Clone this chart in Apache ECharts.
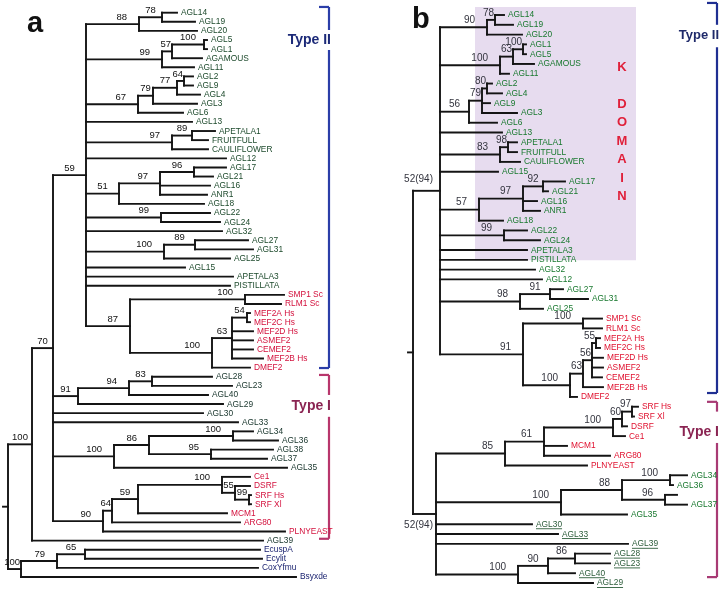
<!DOCTYPE html>
<html><head><meta charset="utf-8">
<script src="https://cdn.jsdelivr.net/npm/echarts@6/dist/echarts.min.js"></script>
<style>html,body{margin:0;padding:0;background:#fff;}#c{width:726px;height:591px;}</style>
</head><body><div id="c"></div>
<script>
// ===== DATA (Newick clades; branch lengths, internal labels = bootstrap) =====
const treeA_typeII = [
 "((AGL14:15,AGL19:33)78:23,AGL20:58)88:53",
 "(((AGL5:3,AGL1:3)100:32,AGAMOUS:30)57:10,AGL11:32)99:76",
 "((((AGL2:9,AGL9:9)64:7,AGL4:23)77:24,AGL3:44)79:15,AGL6:45)67:52",
 "AGL13:106",
 "((APETALA1:23,FRUITFULL:16)89:20,CAULIFLOWER:36)97:86",
 "AGL12:140",
 "(((AGL17:32,AGL21:19)96:34,AGL16:50,ANR1:47)97:41,AGL18:85)51:33",
 "(AGL22:49,AGL24:59)99:75",
 "AGL32:136",
 "((AGL27:53,AGL31:58)89:31,AGL25:66)100:78",
 "AGL15:99",
 "APETALA3:147",
 "PISTILLATA:144",
 "((SMP1 Sc:39,RLM1 Sc:36)100:115,(((MEF2A Hs:3,MEF2C Hs:3)54:15,MEF2D Hs:21,ASMEF2:21,CEMEF2:21,MEF2B Hs:31)63:20,DMEF2:38)100:82)87:44"
];
const treeA_typeI = [
 "(((AGL28:60,AGL23:80)83:23,AGL40:79)94:51,AGL29:145)91:25",
 "AGL30:150",
 "AGL33:185",
 "(((AGL34:20,AGL36:45)100:84,(AGL38:62,AGL37:56)95:62)86:35,AGL35:173)100:61",
 "((((Ce1:28,(DSRF:15,(SRF Hs:2,SRF Xl:2)99:14)55:13)100:84,MCM1:89)59:26,ARG80:128)64:9,PLNYEAST:182)90:50"
];
const treeA_outgroup = "(((EcuspA:175,Ecylit:177)65:28,CoxYfmu:201)79:36,Bsyxde:275)100:13";

const treeB_typeII = [
 "((AGL14:9,AGL19:18)78:8,AGL20:35)90:47",
 "(((AGL1:3,AGL5:3)100:10,AGAMOUS:21)63:13,AGL11:9)100:60",
 "(((AGL2:5,AGL4:15)80:5,AGL9:8,AGL3:35)79:13,AGL6:28)56:29",
 "AGL13:62",
 "((APETALA1:9,FRUITFULL:9)98:8,CAULIFLOWER:20)83:60",
 "AGL15:58",
 "(((AGL17:22,AGL21:5)92:20,AGL16:14,ANR1:17)97:44,AGL18:24)57:39",
 "(AGL22:23,AGL24:36)99:64",
 "APETALA3:87",
 "PISTILLATA:87",
 "AGL32:95",
 "AGL12:102",
 "((AGL27:13,AGL31:38)91:30,AGL25:23)98:80",
 "((SMP1 Sc:19,RLM1 Sc:19)100:60,((((MEF2A Hs:4,MEF2C Hs:4)55:4,MEF2D Hs:11,ASMEF2:11,CEMEF2:10)56:9,MEF2B Hs:20)63:13,DMEF2:7)100:47)91:83"
];
const treeB_typeI = [
 "(((((SRF Hs:6,SRF Xl:2)97:10,DSRF:5)60:9,Ce1:12)100:69,MCM1:23,ARG80:66)61:39,PLNYEAST:82)85:69",
 "(((AGL34:17,AGL36:3)100:48,(:12,AGL37:22)96:43)88:61,AGL35:66)100:125",
 "AGL30:96",
 "AGL33:122",
 "AGL39:192",
 "(((AGL28:35,AGL23:35)86:27,AGL40:27)90:30,AGL29:75)100:82"
];

const redGenes = ['SMP1 Sc','RLM1 Sc','MEF2A Hs','MEF2C Hs','MEF2D Hs','ASMEF2','CEMEF2','MEF2B Hs','DMEF2','Ce1','DSRF','SRF Hs','SRF Xl','MCM1','ARG80','PLNYEAST'];
const outgroupGenes = ['EcuspA','Ecylit','CoxYfmu','Bsyxde'];
const typeIGenesA = ['AGL28','AGL23','AGL40','AGL29','AGL30','AGL33','AGL34','AGL36','AGL38','AGL37','AGL35','AGL39'];
const underlinedB = ['AGL30','AGL33','AGL39','AGL28','AGL23','AGL40','AGL29'];

// ===== build =====
const FONT = '"Liberation Sans", Arial, Helvetica, sans-serif';
const mctx = document.createElement('canvas').getContext('2d');
function tw(t, font){ mctx.font = font; return mctx.measureText(t).width; }

function parseNewick(s){
  let i = 0;
  function node(){
    const n = {children:[], label:'', len:0};
    if (s[i] === '('){
      i++;
      while (true){ n.children.push(node()); if (s[i] === ','){ i++; } else break; }
      i++;
    }
    let lab = '';
    if (s[i] === "'"){ i++; while (s[i] !== "'"){ lab += s[i++]; } i++; }
    else { while (i < s.length && ':,()'.indexOf(s[i]) < 0){ lab += s[i++]; } }
    n.label = lab.trim();
    if (s[i] === ':'){ i++; let num = ''; while (i < s.length && /[0-9.]/.test(s[i])) num += s[i++]; n.len = parseFloat(num) || 0; }
    return n;
  }
  return node();
}

function buildTree(str){
  const root = parseNewick(str);
  let leaf = 0;
  (function lay(n, px){
    n.x = px + n.len; n.px = px;
    if (!n.children.length){ n.y = leaf++; }
    else { n.children.forEach(c => lay(c, n.x)); n.y = (n.children[0].y + n.children[n.children.length-1].y) / 2; }
  })(root, 0);
  const items = [];
  items.push({k:'h', x1:0, x2:root.x, y:root.y});
  (function walk(n, depth, pos){
    if (n.children.length){
      const f = n.children[0], l = n.children[n.children.length-1];
      items.push({k:'v', x:n.x, y1:f.y, y2:l.y});
      n.children.forEach((c, ci) => { items.push({k:'h', x1:n.x, x2:c.x, y:c.y}); walk(c, depth+1, ci === 0 ? 'top' : 'bottom'); });
      if (n.label && depth > 0) items.push({k:'boot', nx:n.x, px:n.px, y:n.y, label:n.label, fx:f.x, fy:f.y, rootChild: depth === 1 ? pos : null});
    } else if (n.label){
      items.push({k:'leaf', x:n.x, y:n.y, name:n.label});
    }
  })(root, 0, null);
  return {items, leafCount:leaf};
}

const treeA = buildTree("((((" + treeA_typeII.join(",") + ")59:33," + treeA_typeI.join(",") + ")70:21,AGL39:231)100:24," + treeA_outgroup + "):5");
const treeB = buildTree("((" + treeB_typeII.join(",") + ")'52(94)':27,(" + treeB_typeI.join(",") + ")'52(94)':23):5");

const LINE = '#141414', LW = 1.9;
const styleA = {
  leafFont: '9px ' + FONT, bootFont: '9.5px ' + FONT, bootColor: '#111', special: false,
  color: n => redGenes.includes(n) ? '#d3103c' : outgroupGenes.includes(n) ? '#1b2370' : typeIGenesA.includes(n) ? '#17342b' : '#1d4a2c',
  underline: n => false
};
const styleB = {
  leafFont: '9px ' + FONT, bootFont: '10px ' + FONT, bootColor: '#33343e', special: true,
  color: n => redGenes.includes(n) ? '#e0102e' : underlinedB.includes(n) ? '#2c5c3a' : '#18782e',
  underline: n => underlinedB.includes(n)
};

function renderTree(tree, st){
  return function(params, api){
    const it = tree.items[params.dataIndex];
    const ls = {stroke: LINE, lineWidth: LW, lineCap: 'square'};
    if (it.k === 'h'){
      const p1 = api.coord([it.x1, it.y]), p2 = api.coord([it.x2, it.y]);
      return {type:'line', shape:{x1:p1[0], y1:p1[1], x2:p2[0], y2:p2[1]}, style:ls};
    }
    if (it.k === 'v'){
      const p1 = api.coord([it.x, it.y1]), p2 = api.coord([it.x, it.y2]);
      return {type:'line', shape:{x1:p1[0], y1:p1[1], x2:p2[0], y2:p2[1]}, style:ls};
    }
    if (it.k === 'leaf'){
      const p = api.coord([it.x, it.y]);
      const sx = 0.93, tx = p[0] + 4;
      const col = st.color(it.name);
      const txt = {type:'text', x:tx, y:p[1], scaleX:sx,
        style:{text:it.name, fill:col, font:st.leafFont, align:'left', verticalAlign:'middle', textAlign:'left', textVerticalAlign:'middle'}};
      if (!st.underline(it.name)) return txt;
      const w = tw(it.name, st.leafFont) * sx;
      return {type:'group', children:[txt,
        {type:'line', shape:{x1:tx, y1:p[1]+4.5, x2:tx+w, y2:p[1]+4.5}, style:{stroke:col, lineWidth:0.9}}]};
    }
    if (it.k === 'boot'){
      const pn = api.coord([it.nx, it.y]), pp = api.coord([it.px, it.y]);
      const w = tw(it.label, st.bootFont);
      let cx, ly, align = 'center';
      if (st.special && it.rootChild){
        cx = pp[0] + 20; align = 'right';
        ly = it.rootChild === 'top' ? pn[1] - 12 : pn[1] + 11;
      } else {
        const mid = (pn[0] + pp[0]) / 2;
        cx = Math.max(mid, pn[0] - 12 - w/2);
        cx = Math.min(cx, pn[0] - 1 - w/2);
        cx = Math.max(cx, mid - 14);
        ly = pn[1] - 7;
        const pf = api.coord([it.fx, it.fy]);
        if (pf[1] > ly - 4 && pf[1] < ly + 4 && cx - w/2 + 1 < pf[0] && cx + w/2 - 1 > pn[0]) ly = pf[1] - 7;
      }
      return {type:'text', x:cx, y:ly,
        style:{text:it.label, fill:st.bootColor, font:st.bootFont, align:align, verticalAlign:'middle', textAlign:align, textVerticalAlign:'middle'}};
    }
    return null;
  };
}

// ===== decorations (in each tree's axis units: x = distance, y = leaf row) =====
const bracketsA = [
  {x:326, from:-0.63, to:39.04, gap:[1.9, 4.1], textRow:3.0, text:'Type II', line:'#2b3ea8', color:'#1c2a78', size:14},
  {x:326, from:39.8, to:57.8, gap:[42.0, 44.4], textRow:43.2, text:'Type I', line:'#b8366c', color:'#8a2452', size:14}
];
const bracketsB = [
  {x:309, from:-1.23, to:38.6, gap:[1.0, 3.3], textRow:2.05, text:'Type II', line:'#1f2f92', color:'#1f2a6a', size:13},
  {x:309, from:39.5, to:57.4, gap:[40.5, 43.7], textRow:42.6, text:'Type I', line:'#a83a74', color:'#8a2452', size:14}
];
const kDomain = {x1:67, x2:228, from:-0.82, to:25.05, fill:'#e7dcef'};

function renderBrackets(list){
  return function(params, api){
    const b = list[params.dataIndex];
    const top = api.coord([b.x, b.from]), bot = api.coord([b.x, b.to]);
    const g1 = api.coord([b.x, b.gap[0]]), g2 = api.coord([b.x, b.gap[1]]), tr = api.coord([b.x, b.textRow]);
    const x = top[0];
    const s = {stroke:b.line, lineWidth:2.2};
    return {type:'group', children:[
      {type:'line', shape:{x1:x-10, y1:top[1], x2:x, y2:top[1]}, style:s},
      {type:'line', shape:{x1:x, y1:top[1], x2:x, y2:g1[1]}, style:s},
      {type:'line', shape:{x1:x, y1:g2[1], x2:x, y2:bot[1]}, style:s},
      {type:'line', shape:{x1:x-10, y1:bot[1], x2:x, y2:bot[1]}, style:s},
      {type:'text', x:x+2, y:tr[1], style:{text:b.text, fill:b.color, font:'bold ' + b.size + 'px ' + FONT,
        align:'right', verticalAlign:'middle', textAlign:'right', textVerticalAlign:'middle'}}
    ]};
  };
}

const chart = echarts.init(document.getElementById('c'), null, {renderer:'canvas'});
chart.setOption({
  animation:false,
  backgroundColor:'#ffffff',
  grid:[
    {left:3, top:12.7, width:300, height:564.3},
    {left:408, top:15, width:318, height:568}
  ],
  xAxis:[
    {gridIndex:0, type:'value', min:0, max:300, show:false},
    {gridIndex:1, type:'value', min:0, max:318, show:false}
  ],
  yAxis:[
    {gridIndex:0, type:'value', min:0, max:treeA.leafCount-1, inverse:true, show:false},
    {gridIndex:1, type:'value', min:0, max:treeB.leafCount-1, inverse:true, show:false}
  ],
  graphic:[
    {type:'text', x:27, y:38, style:{text:'a', font:'bold 29px ' + FONT, fill:'#111', textAlign:'left', textVerticalAlign:'bottom', align:'left', verticalAlign:'bottom'}},
    {type:'text', x:412, y:34, style:{text:'b', font:'bold 29px ' + FONT, fill:'#111', textAlign:'left', textVerticalAlign:'bottom', align:'left', verticalAlign:'bottom'}},
    {type:'text', x:622, y:58, z:5, style:{text:'K\n\nD\nO\nM\nA\nI\nN', font:'bold 13px ' + FONT, fill:'#e0203a', lineHeight:18.5,
      textAlign:'center', textVerticalAlign:'top', align:'center', verticalAlign:'top'}}
  ],
  series:[
    {type:'custom', xAxisIndex:1, yAxisIndex:1, z:1, clip:false, silent:true,
     data:[[0,0]],
     renderItem:function(params, api){
       const p1 = api.coord([kDomain.x1, kDomain.from]), p2 = api.coord([kDomain.x2, kDomain.to]);
       return {type:'rect', shape:{x:p1[0], y:p1[1], width:p2[0]-p1[0], height:p2[1]-p1[1]}, style:{fill:kDomain.fill}};
     }},
    {type:'custom', xAxisIndex:0, yAxisIndex:0, z:2, clip:false, silent:true,
     data:bracketsA.map(() => [0,0]), renderItem:renderBrackets(bracketsA)},
    {type:'custom', xAxisIndex:1, yAxisIndex:1, z:2, clip:false, silent:true,
     data:bracketsB.map(() => [0,0]), renderItem:renderBrackets(bracketsB)},
    {type:'custom', xAxisIndex:0, yAxisIndex:0, z:3, clip:false, silent:true,
     data:treeA.items.map(() => [0,0]), renderItem:renderTree(treeA, styleA)},
    {type:'custom', xAxisIndex:1, yAxisIndex:1, z:3, clip:false, silent:true,
     data:treeB.items.map(() => [0,0]), renderItem:renderTree(treeB, styleB)}
  ]
});
</script>
</body></html>
